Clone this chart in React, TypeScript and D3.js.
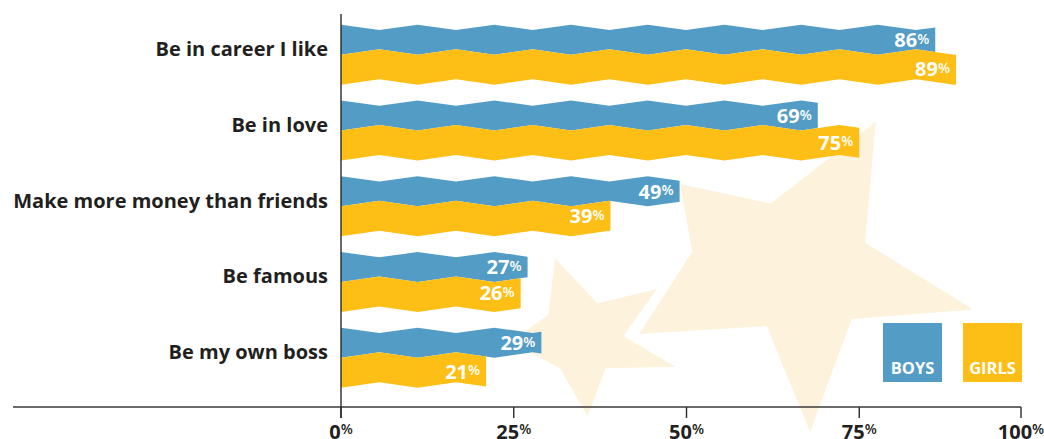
import React from "react";
import * as d3 from "d3";

// ---------- data ----------
const categories = [
  "Be in career I like",
  "Be in love",
  "Make more money than friends",
  "Be famous",
  "Be my own boss",
];
const boys = [86, 69, 49, 27, 29];
const girls = [89, 75, 39, 26, 21];
const tickValues = [0, 25, 50, 75, 100];
const legendLabels = ["BOYS", "GIRLS"];

// ---------- style / layout ----------
const W = 1044;
const H = 439;
const X0 = 341;
const X100 = 1032;
const AXIS_END = 1021;
const AXIS_Y = 407;
const BLUE = "#529CC6";
const YELLOW = "#FDBE15";
const STAR = "#FDF2DC";
const INK = "#231F20";
const FONT = "'Open Sans', 'Noto Sans', sans-serif";

const PERIOD = 76.67;
const AMP = 2.7;

// decorative stars: polar outlines [angleDeg, radius] around a centre
const bigStar = { cx: 789.5, cy: 268.7, pts: [
  [-59.6, 170.4], [-19, 79.9], [12.5, 188.2], [39, 80], [82.8, 164.3],
  [111.7, 61.7], [156.5, 163.8], [190, 98.7], [217.7, 138.4], [254, 67.8],
] };
const smallStar = { cx: 587, cy: 338, pts: [
  [248.1, 85.9], [286.5, 36.2], [325.1, 85], [356.8, 36.4], [378.1, 92.6],
  [418.3, 35.6], [449.5, 78], [491.7, 40.6], [537, 77], [570.7, 45],
] };

const x = d3.scaleLinear().domain([0, 100]).range([X0, X100]);
const y = d3.scalePoint<string>().domain(categories).range([52, 355]);

function tri(px: number) {
  let p = ((px - X0) / PERIOD) % 1;
  if (p < 0) p += 1;
  return p < 0.5 ? 1 - 4 * p : -3 + 4 * p;
}
const blueTop = (c: number, px: number) => c - 24.6 - AMP * tri(px);
const mid = (c: number, px: number) => c + AMP * tri(px);
const yelBottom = (c: number, px: number) => c + 30 + AMP * tri(px);

function samples(end: number) {
  const xs: number[] = [];
  for (let v = X0; v < end - 0.01; v += PERIOD / 2) xs.push(v);
  xs.push(end);
  return xs;
}

function starPath(s: { cx: number; cy: number; pts: number[][] }) {
  const line = d3
    .lineRadial<number[]>()
    .angle((d) => ((d[0] + 90) * Math.PI) / 180)
    .radius((d) => d[1])
    .curve(d3.curveLinearClosed);
  return { d: line(s.pts) as string, t: `translate(${s.cx},${s.cy})` };
}

export default function App() {
  const bars: any[] = [];
  categories.forEach((cat, i) => {
    const c = y(cat) as number;
    const bEnd = x(boys[i]);
    const gEnd = x(girls[i]);
    const blueArea = d3
      .area<number>()
      .x((d) => d)
      .y0((d) => blueTop(c, d))
      .y1((d) => mid(c, d));
    const yelArea = d3
      .area<number>()
      .x((d) => d)
      .y0((d) => mid(c, d))
      .y1((d) => yelBottom(c, d));
    bars.push({
      cat,
      c,
      bEnd,
      gEnd,
      bPath: blueArea(samples(bEnd)),
      gPath: yelArea(samples(gEnd)),
      bLabelY: (blueTop(c, bEnd) + mid(c, bEnd)) / 2 + 7.5,
      gLabelY: (mid(c, gEnd) + yelBottom(c, gEnd)) / 2 + 7,
      b: boys[i],
      g: girls[i],
    });
  });

  const s1 = starPath(bigStar);
  const s2 = starPath(smallStar);

  return (
    <svg
      width={W}
      height={H}
      style={{ position: "absolute", left: 0, top: 0, background: "#fff" }}
      fontFamily={FONT}
    >
      <path d={s1.d} transform={s1.t} fill={STAR} />
      <path d={s2.d} transform={s2.t} fill={STAR} />

      {bars.map((b) => (
        <g key={b.cat}>
          <path d={b.bPath} fill={BLUE} />
          <path d={b.gPath} fill={YELLOW} />
          <text
            x={328}
            y={b.c + 4}
            textAnchor="end"
            fontSize={20}
            fontWeight={700}
            fill={INK}
          >
            {b.cat}
          </text>
          <text x={b.bEnd - 6} y={b.bLabelY} textAnchor="end" fontSize={20} fontWeight={700} fill="#fff">
            {b.b}
            <tspan fontSize={14} fontWeight={600} dy={-3.4}>%</tspan>
          </text>
          <text x={b.gEnd - 6} y={b.gLabelY} textAnchor="end" fontSize={20} fontWeight={700} fill="#fff">
            {b.g}
            <tspan fontSize={14} fontWeight={600} dy={-3.4}>%</tspan>
          </text>
        </g>
      ))}

      {/* axes */}
      <line x1={13} x2={AXIS_END} y1={AXIS_Y} y2={AXIS_Y} stroke="#3a3a3a" strokeWidth={1.6} />
      <line x1={X0} x2={X0} y1={14} y2={418} stroke="#2a2a2a" strokeWidth={1.4} />
      {tickValues.map((t) => {
        const tx = Math.min(x(t), AXIS_END);
        return (
          <g key={t}>
            <line x1={tx} x2={tx} y1={AXIS_Y} y2={418} stroke="#2a2a2a" strokeWidth={1.4} />
            <text x={tx} y={438.5} textAnchor="middle" fontSize={20} fontWeight={700} fill={INK}>
              {t}
              <tspan fontSize={14} fontWeight={600} dy={-4.5}>%</tspan>
            </text>
          </g>
        );
      })}

      {/* legend */}
      {legendLabels.map((l, i) => (
        <g key={l} transform={`translate(${883 + i * 80},323)`}>
          <rect width={59} height={59} fill={i === 0 ? BLUE : YELLOW} />
          <text x={29.5} y={51.3} textAnchor="middle" fontSize={16.5} fontWeight={700} fill="#fff">
            {l}
          </text>
        </g>
      ))}
    </svg>
  );
}
